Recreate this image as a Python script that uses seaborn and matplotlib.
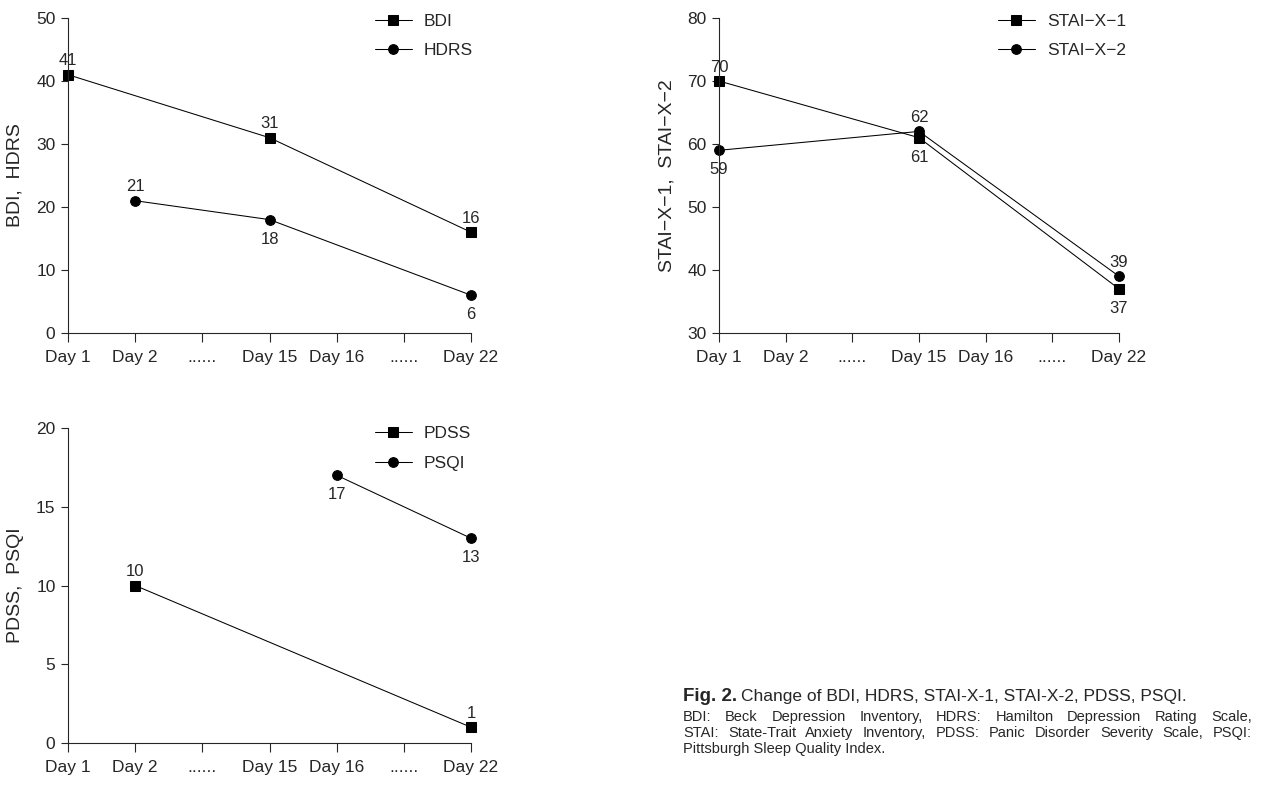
import seaborn as sns
import matplotlib.pyplot as plt

# x categories (positions 0..6 on every panel)
days = ['Day 1', 'Day 2', '......', 'Day 15', 'Day 16', '......', 'Day 22']

# series: position index into days, value, label side (1 = above, -1 = below)
bdi_x = [0, 3, 6]
bdi = [41, 31, 16]
bdi_side = [1, 1, 1]
hdrs_x = [1, 3, 6]
hdrs = [21, 18, 6]
hdrs_side = [1, -1, -1]

stai1_x = [0, 3, 6]
stai1 = [70, 61, 37]
stai1_side = [1, -1, -1]
stai2_x = [0, 3, 6]
stai2 = [59, 62, 39]
stai2_side = [-1, 1, 1]

pdss_x = [1, 6]
pdss = [10, 1]
pdss_side = [1, 1]
psqi_x = [4, 6]
psqi = [17, 13]
psqi_side = [-1, -1]

sns.set_style('ticks')
plt.rcParams['font.family'] = ['Liberation Sans', 'DejaVu Sans']
plt.rcParams['axes.linewidth'] = 0.8
plt.rcParams['xtick.major.size'] = 6.5
plt.rcParams['xtick.major.width'] = 0.8
plt.rcParams['ytick.major.size'] = 5
plt.rcParams['ytick.major.width'] = 0.8
plt.rcParams['xtick.major.pad'] = 6
plt.rcParams['ytick.major.pad'] = 4
plt.rcParams['axes.unicode_minus'] = True

fig = plt.figure(figsize=(12.65, 7.88), dpi=100)
W, H = 1265, 788


def make_axes(left, right, top, bottom):
    return fig.add_axes([left / W, 1 - bottom / H, (right - left) / W, (bottom - top) / H])


def draw_series(ax, xs, ys, sides, marker, name):
    sns.lineplot(x=xs, y=ys, ax=ax, color='black', linewidth=0.75, marker=marker,
                 markersize=6.5 if marker == 's' else 7, markeredgecolor='black',
                 label=name)
    for x, y, s in zip(xs, ys, sides):
        ax.annotate(str(y), (x, y), xytext=(0, 10 if s > 0 else -14),
                    textcoords='offset points', ha='center', va='center', fontsize=12)


def style_axes(ax, ymin, ymax, step, ylabel, legx, legy):
    ax.set_xlim(0, 6)
    ax.set_ylim(ymin, ymax)
    ax.set_xticks(range(len(days)))
    ax.set_xticklabels(days, fontsize=12.5)
    ax.set_yticks(range(ymin, ymax + 1, step))
    ax.tick_params(axis='y', labelsize=12.5)
    sns.despine(ax=ax)
    ax.spines['left'].set_bounds(ymin, ymax)
    ax.set_ylabel(ylabel, fontsize=14)
    ax.yaxis.set_label_coords(-0.11, 0.5)
    ax.set_xlabel('')
    for line in ax.get_lines():
        line.set_clip_on(False)
    ax.legend(loc='upper left', bbox_to_anchor=(legx, legy), frameon=False, fontsize=12.5,
              borderpad=0, borderaxespad=0, handlelength=2.1, handletextpad=0.7,
              labelspacing=0.84)


ax1 = make_axes(68, 471, 18, 333)
draw_series(ax1, bdi_x, bdi, bdi_side, 's', 'BDI')
draw_series(ax1, hdrs_x, hdrs, hdrs_side, 'o', 'HDRS')
style_axes(ax1, 0, 50, 10, 'BDI,  HDRS', 0.762, 1.014)

ax2 = make_axes(719, 1119, 18, 333)
draw_series(ax2, stai1_x, stai1, stai1_side, 's', 'STAI\u2212X\u22121')
draw_series(ax2, stai2_x, stai2, stai2_side, 'o', 'STAI\u2212X\u22122')
style_axes(ax2, 30, 80, 10, 'STAI\u2212X\u22121,  STAI\u2212X\u22122', 0.698, 1.014)

ax3 = make_axes(68, 471, 428, 743)
draw_series(ax3, pdss_x, pdss, pdss_side, 's', 'PDSS')
draw_series(ax3, psqi_x, psqi, psqi_side, 'o', 'PSQI')
style_axes(ax3, 0, 20, 5, 'PDSS,  PSQI', 0.762, 1.007)

# caption
t0 = fig.text(683 / W, 1 - 701 / H, 'Fig. 2.', fontsize=13.5, fontweight='bold',
              va='baseline')
fig.canvas.draw()
renderer = fig.canvas.get_renderer()
bb = t0.get_window_extent(renderer)
fig.text((bb.x1 + 4) / W, 1 - 701 / H,
         'Change of BDI, HDRS, STAI-X-1, STAI-X-2, PDSS, PSQI.',
         fontsize=12.5, va='baseline')

notes = [
    'BDI: Beck Depression Inventory, HDRS: Hamilton Depression Rating Scale,',
    'STAI: State-Trait Anxiety Inventory, PDSS: Panic Disorder Severity Scale, PSQI:',
    'Pittsburgh Sleep Quality Index.',
]
x_left, x_right = 683, 1252
for i, line in enumerate(notes):
    yb = 1 - (721 + i * 16) / H
    words = line.split()
    if i == len(notes) - 1:
        fig.text(x_left / W, yb, line, fontsize=10.5, va='baseline')
        continue
    texts = [fig.text(0, yb, w, fontsize=10.5, va='baseline') for w in words]
    widths = [t.get_window_extent(renderer).width for t in texts]
    gap = (x_right - x_left - sum(widths)) / (len(words) - 1)
    x = x_left
    for t, w in zip(texts, widths):
        t.set_x(x / W)
        x += w + gap

fig.savefig('out.png', dpi=100)
